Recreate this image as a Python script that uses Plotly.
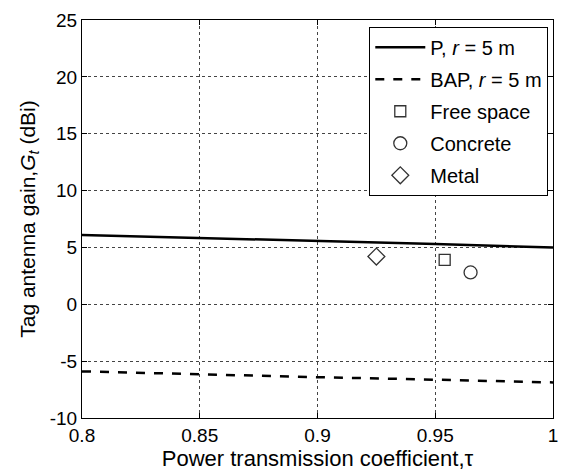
import plotly.graph_objects as go

tau = [0.8, 0.85, 0.9, 0.95, 1.0]
gain_p = [6.1, 5.85, 5.6, 5.3, 5.0]
gain_bap = [-5.9, -6.17, -6.41, -6.63, -6.87]

free_tau = [0.954]; free_gain = [3.9]
conc_tau = [0.965]; conc_gain = [2.8]
metal_tau = [0.925]; metal_gain = [4.2]

x_ticks = [0.8, 0.85, 0.9, 0.95, 1.0]
x_tick_text = ["0.8", "0.85", "0.9", "0.95", "1"]
y_ticks = [-10, -5, 0, 5, 10, 15, 20, 25]
y_tick_text = ["-10", "-5", "0", "5", "10", "15", "20", "25"]

font = "Liberation Sans, Arial, sans-serif"
fig = go.Figure()
fig.add_trace(go.Scatter(x=tau, y=gain_p, mode="lines", name="P, <i>r</i> = 5 m", legendgroup="a",
                         line=dict(color="black", width=2.5)))
fig.add_trace(go.Scatter(x=tau, y=gain_bap, mode="lines", name="BAP, <i>r</i> = 5 m", legendgroup="b",
                         line=dict(color="black", width=2.5, dash="dash")))
fig.add_trace(go.Scatter(x=free_tau, y=free_gain, mode="markers", name="Free space", legendgroup="c",
                         marker=dict(symbol="square-open", size=11, color="#333", line=dict(width=1.3))))
fig.add_trace(go.Scatter(x=conc_tau, y=conc_gain, mode="markers", name="Concrete", legendgroup="d",
                         marker=dict(symbol="circle-open", size=13, color="#333", line=dict(width=1.3))))
fig.add_trace(go.Scatter(x=metal_tau, y=metal_gain, mode="markers", name="Metal", legendgroup="e",
                         marker=dict(symbol="diamond-open", size=13, color="#333", line=dict(width=1.3))))

axis_common = dict(showline=True, linecolor="black", linewidth=1, mirror="ticks",
                   ticks="inside", ticklen=5, tickcolor="black",
                   showgrid=True, gridcolor="#444", griddash="dot", gridwidth=1,
                   zeroline=False, tickfont=dict(size=19, color="black", family=font))
fig.update_xaxes(range=[0.8, 1.0], tickvals=x_ticks, ticktext=x_tick_text, ticklabeloverflow="allow",
                 title=dict(text="Power transmission coefficient,τ", font=dict(size=22, color="black", family=font), standoff=3),
                 **axis_common)
fig.update_yaxes(range=[-10, 25], tickvals=y_ticks, ticktext=y_tick_text,
                 title=dict(text="Tag antenna gain,<i>G</i><sub><i>t</i></sub> (dBi)", font=dict(size=21, color="black", family=font), standoff=8),
                 **axis_common)
fig.update_layout(width=561, height=474, margin=dict(l=82, r=3, t=20, b=56),
                  plot_bgcolor="white", paper_bgcolor="white",
                  font=dict(family=font, color="black"),
                  legend=dict(x=0.99, y=0.983, xanchor="right", yanchor="top",
                              bordercolor="black", borderwidth=1, bgcolor="white",
                              font=dict(size=20, color="black", family=font),
                              tracegroupgap=3, itemwidth=50))
fig.write_html("out.html")
